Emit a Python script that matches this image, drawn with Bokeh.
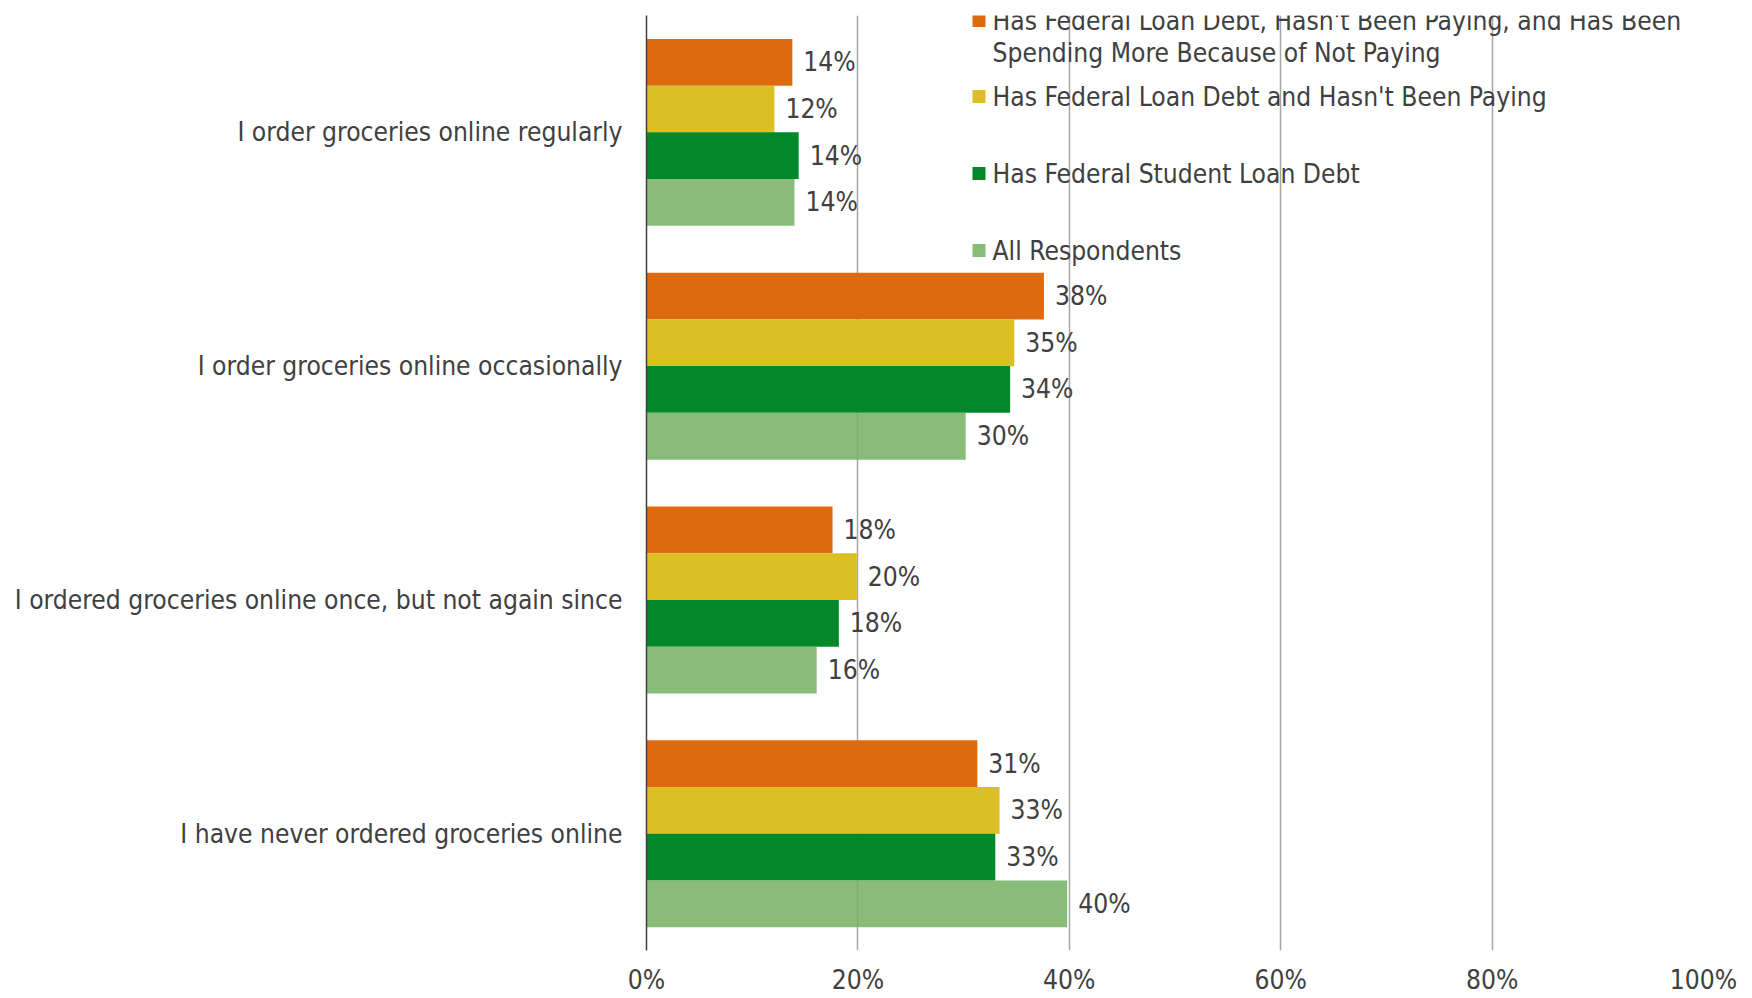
from bokeh.plotting import figure
from bokeh.models import (ColumnDataSource, FactorRange, Range1d, LabelSet, BoxAnnotation,
                          Label, FixedTicker, PrintfTickFormatter)
from bokeh.transform import dodge
from bokeh.core.properties import value
from bokeh.embed import file_html
from bokeh.resources import INLINE

categories = [
    "I order groceries online regularly",
    "I order groceries online occasionally",
    "I ordered groceries online once, but not again since",
    "I have never ordered groceries online",
]
series_names = [
    "Has Federal Loan Debt, Hasn't Been Paying, and Has Been\nSpending More Because of Not Paying",
    "Has Federal Loan Debt and Hasn't Been Paying",
    "Has Federal Student Loan Debt",
    "All Respondents",
]
not_paying_spending = [13.8, 37.6, 17.6, 31.3]
not_paying = [12.1, 34.8, 19.9, 33.4]
has_debt = [14.4, 34.4, 18.2, 33.0]
all_resp = [14.0, 30.2, 16.1, 39.8]
x_ticks = [0, 20, 40, 60, 80, 100]

colors = ["#DE6A10", "#DCBE25", "#00882B", "#74B060"]
alphas = [1.0, 1.0, 1.0, 0.85]
FONT = "DejaVu Sans Condensed"
TXT = "#404040"
FS = "26.2px"

series = [not_paying_spending, not_paying, has_debt, all_resp]
keys = ["s0", "s1", "s2", "s3"]
data = {"cat": categories}
for k, vals in zip(keys, series):
    data[k] = vals
    data[k + "_lbl"] = [f"{round(v):.0f}%" for v in vals]
src = ColumnDataSource(data)

p = figure(width=1752, height=998, output_backend="svg", toolbar_location=None,
           y_range=FactorRange(factors=list(reversed(categories))),
           x_range=Range1d(0, 100),
           min_border_left=646, min_border_right=49, min_border_top=15, min_border_bottom=48)
p.outline_line_color = None

offsets = [0.3, 0.1, -0.1, -0.3]
for k, off, c, a in zip(keys, offsets, colors, alphas):
    yd = dodge("cat", off, range=p.y_range)
    p.hbar(y=yd, left=0, right=k, height=0.2, source=src, fill_color=c, fill_alpha=a,
           line_color=None)
    p.add_layout(LabelSet(x=k, y=yd, text=k + "_lbl", source=src, x_offset=11,
                          text_baseline="middle", text_align="left",
                          text_font=value(FONT), text_font_size=FS, text_color=TXT))

p.xaxis.ticker = FixedTicker(ticks=x_ticks)
p.xaxis.formatter = PrintfTickFormatter(format="%d%%")
p.xaxis.axis_line_color = None
p.xaxis.major_tick_line_color = None
p.xaxis.minor_tick_line_color = None
p.xaxis.major_tick_out = 0
p.xaxis.minor_tick_out = 0
p.xaxis.major_label_standoff = 14
p.xaxis.major_label_text_font = FONT
p.xaxis.major_label_text_font_size = FS
p.xaxis.major_label_text_color = TXT

p.yaxis.axis_line_color = "#404040"
p.yaxis.axis_line_width = 1.5
p.yaxis.major_tick_line_color = None
p.yaxis.minor_tick_line_color = None
p.yaxis.major_tick_out = 0
p.yaxis.minor_tick_out = 0
p.yaxis.major_label_standoff = 24
p.yaxis.major_label_text_font = FONT
p.yaxis.major_label_text_font_size = FS
p.yaxis.major_label_text_color = TXT

p.ygrid.grid_line_color = None
p.xgrid.ticker = FixedTicker(ticks=x_ticks)
p.xgrid.grid_line_color = "#A6A6A6"
p.xgrid.grid_line_width = 1.5

# manual legend (screen units relative to frame bottom-left)
legend_colors = ["#DE6A10", "#DCBE25", "#00882B", "#89BC78"]
sq_y = [930, 854, 777, 700]
for name, c, y in zip(series_names, legend_colors, sq_y):
    p.add_layout(BoxAnnotation(left=326, right=339, bottom=y - 6.5, top=y + 6.5,
                               left_units="screen", right_units="screen",
                               top_units="screen", bottom_units="screen",
                               fill_color=c, fill_alpha=1, line_color=None))
    lines = name.split("\n")
    for i, ln in enumerate(lines):
        p.add_layout(Label(x=346, y=y - i * 32.5, x_units="screen", y_units="screen",
                           text=ln, text_font=FONT, text_font_size=FS, text_color=TXT,
                           text_baseline="middle", text_align="left"))

open("out.html", "w").write(file_html(p, INLINE))
